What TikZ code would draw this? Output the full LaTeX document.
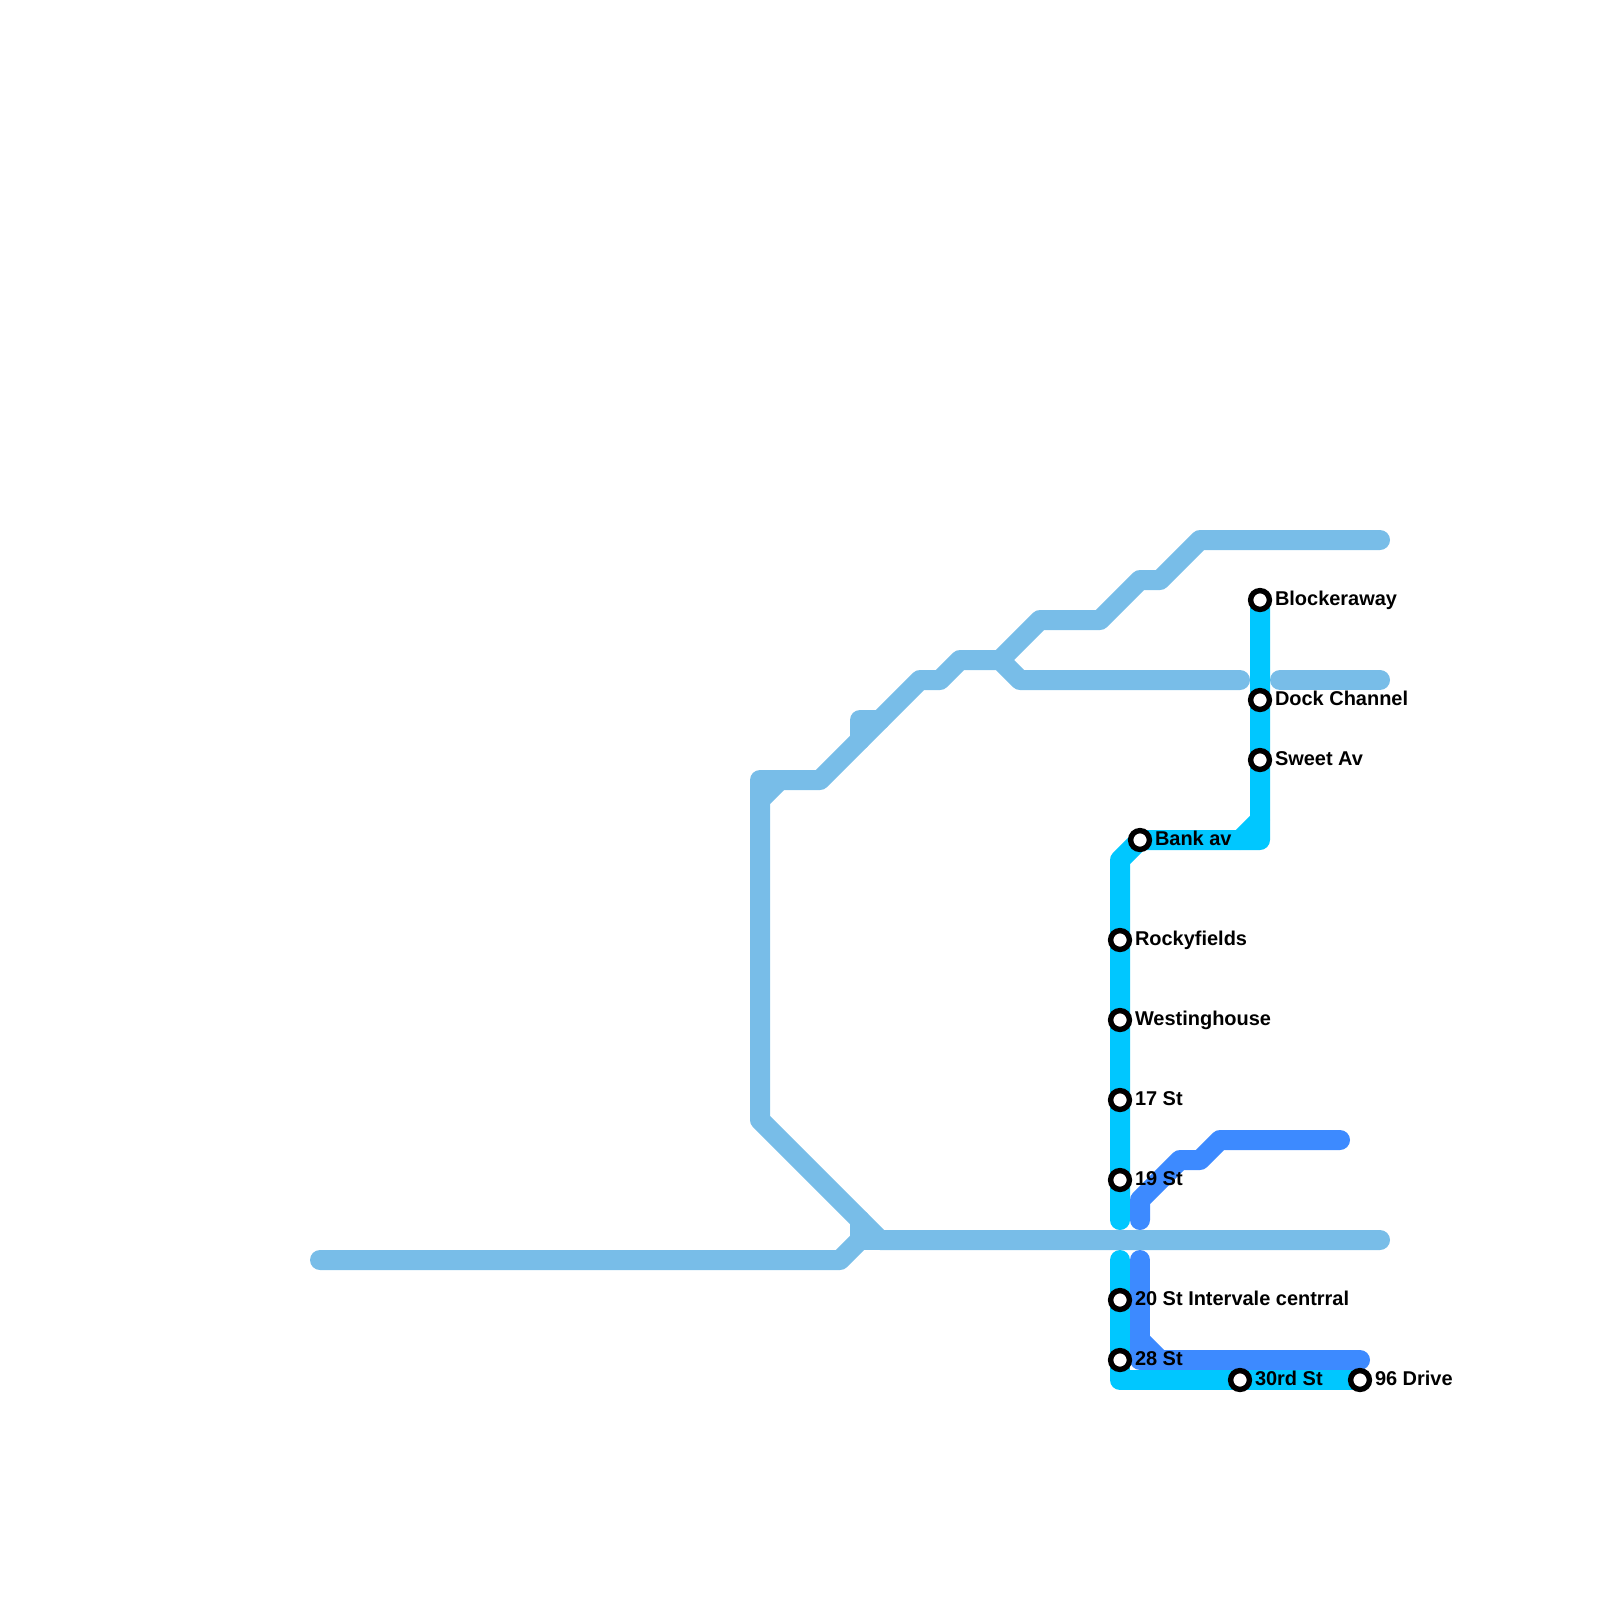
\documentclass[tikz,border=0pt]{standalone}
\usepackage{fontspec}
\setmainfont{Liberation Sans}
\usepackage{xcolor}
\usetikzlibrary{calc}
\definecolor{linesky}{rgb}{0.47,0.74,0.91}
\definecolor{linecyan}{rgb}{0.0,0.78,1.0}
\definecolor{lineblue}{rgb}{0.24,0.54,1.0}

\begin{document}
\begin{tikzpicture}[
  x=0.5cm, y=-0.5cm,
  route/.style={line width=0.5cm, line cap=round, line join=round},
  sky/.style={route, linesky},
  cyanroute/.style={route, linecyan},
  blueroute/.style={route, lineblue},
  stn/.style={
    draw=black, fill=white, circle, line width=0.135cm,
    minimum size=0.47cm, inner sep=0pt, outer sep=0pt
  },
  lbl/.style={
    anchor=base west, inner sep=0pt, outer sep=0pt,
    font=\fontsize{14.2}{17}\selectfont\bfseries
  },
]
\useasboundingbox (0,0) rectangle (80,80);

%% ---- Station positions ----
\coordinate (blockeraway) at (63,30);
\coordinate (dock) at (63,35);
\coordinate (sweet) at (63,38);
\coordinate (bank) at (57,42);
\coordinate (rocky) at (56,47);
\coordinate (westing) at (56,51);
\coordinate (st17) at (56,55);
\coordinate (st19) at (56,59);
\coordinate (st20) at (56,65);
\coordinate (st28) at (56,68);
\coordinate (st30) at (62,69);
\coordinate (drive96) at (68,69);

%% ---- Sky line ----
\draw[sky] (16,63) -- (42,63) -- (43,62) -- (43,61);
\draw[sky] (43,62) -- (44,62);
\draw[sky] (69,62) -- (44,62) -- (38,56) -- (38,40) -- (39,39);
\draw[sky] (38,40) -- (38,39) -- (41,39) -- (46,34) -- (47,34) -- (48,33)
  -- (50,33) -- (51,34) -- (62,34);
\draw[sky] (43,37) -- (43,36) -- (44,36);
\draw[sky] (50,33) -- (52,31) -- (55,31) -- (57,29) -- (58,29) -- (60,27) -- (69,27);
\draw[sky] (64,34) -- (69,34);

%% ---- Cyan line ----
\draw[cyanroute] (blockeraway) -- (63,42) -- (bank) -- (56,43) -- (st19) -- (56,61);
\draw[cyanroute] (62,42) -- (63,41);
\draw[cyanroute] (56,63) -- (st28) -- (56,69) -- (drive96);

%% ---- Blue line ----
\draw[blueroute] (57,61) -- (57,60) -- (59,58) -- (60,58) -- (61,57) -- (67,57);
\draw[blueroute] (57,63) -- (57,68) -- (68,68);
\draw[blueroute] (57,67) -- (58,68);

%% ---- Stations ----
\node[stn] (nBlockeraway) at (blockeraway) {};
\node[stn] (nDock) at (dock) {};
\node[stn] (nSweet) at (sweet) {};
\node[stn] (nBank) at (bank) {};
\node[stn] (nRocky) at (rocky) {};
\node[stn] (nWesting) at (westing) {};
\node[stn] (nSt17) at (st17) {};
\node[stn] (nSt19) at (st19) {};
\node[stn] (nSt20) at (st20) {};
\node[stn] (nSt28) at (st28) {};
\node[stn] (nSt30) at (st30) {};
\node[stn] (nDrive96) at (drive96) {};

%% ---- Labels ----
\node[lbl] (tBlockeraway) at ($(blockeraway)+(0.75,0.25)$) {Blockeraway};
\node[lbl] (tDock) at ($(dock)+(0.75,0.25)$) {Dock Channel};
\node[lbl] (tSweet) at ($(sweet)+(0.75,0.25)$) {Sweet Av};
\node[lbl] (tBank) at ($(bank)+(0.75,0.25)$) {Bank av};
\node[lbl] (tRocky) at ($(rocky)+(0.75,0.25)$) {Rockyfields};
\node[lbl] (tWesting) at ($(westing)+(0.75,0.25)$) {Westinghouse};
\node[lbl] (tSt17) at ($(st17)+(0.75,0.25)$) {17 St};
\node[lbl] (tSt19) at ($(st19)+(0.75,0.25)$) {19 St};
\node[lbl] (tSt20) at ($(st20)+(0.75,0.25)$) {20 St Intervale centrral};
\node[lbl] (tSt28) at ($(st28)+(0.75,0.25)$) {28 St};
\node[lbl] (tSt30) at ($(st30)+(0.75,0.25)$) {30rd St};
\node[lbl] (tDrive96) at ($(drive96)+(0.75,0.25)$) {96 Drive};

\end{tikzpicture}
\end{document}
